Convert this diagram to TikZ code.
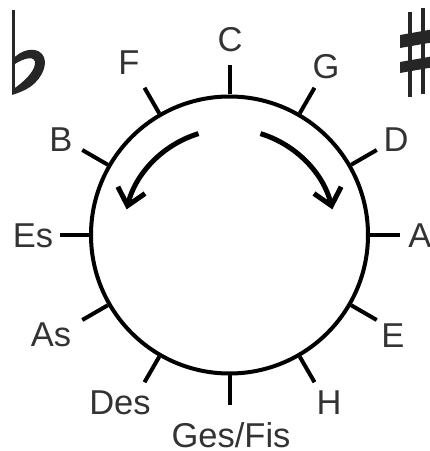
\documentclass[tikz,border=0pt]{standalone}
\usepackage{fontspec}
\setmainfont{Liberation Sans}
\usetikzlibrary{arrows.meta,calc}
\begin{document}
\begin{tikzpicture}[x=1pt,y=1pt,
  lab/.style={anchor=base, inner sep=0pt, text=black!80, font=\fontsize{34.5}{40}\selectfont},
  tickline/.style={line width=4pt},
  turn/.style={line width=5pt, -{Straight Barb[length=16pt,width=28pt]}},
  glyph/.style={fill=black!85, draw=none}]
\useasboundingbox (0,0) rectangle (430,451);
% ring
\node[draw, circle, line width=4pt, minimum size=277pt, inner sep=0pt] (ring) at (229.5,216) {};
% ticks
\foreach \a in {0,30,...,330}{
  \coordinate (t\a) at ($(ring.center)+(\a:170)$);
  \draw[tickline] (ring.\a) -- (t\a);
}
% labels
\node[lab] (nC)  at (230,399) {C};
\node[lab] (nG)  at (326,372) {G};
\node[lab] (nD)  at (396,299) {D};
\node[lab] (nA)  at (420,204) {A};
\node[lab] (nE)  at (393,103) {E};
\node[lab] (nH)  at (329,36) {H};
\node[lab] (nGF) at (231,4) {Ges/Fis};
\node[lab] (nDes) at (120,36) {Des};
\node[lab] (nAs) at (51,104) {As};
\node[lab] (nEs) at (33,204) {Es};
\node[lab] (nB)  at (61,299) {B};
\node[lab] (nF)  at (129,376) {F};
% direction arrows
\coordinate (la) at ($(ring.center)+(107:106)$);
\coordinate (ra) at ($(ring.center)+(73:106)$);
\draw[turn] (la) arc[start angle=107, end angle=166, radius=106];
\draw[turn] (ra) arc[start angle=73, end angle=14, radius=106];
% flat and sharp signs
\begin{scope}[shift={(0,451)}, yscale=-1]
  \draw[line width=3pt, black!85] (13,10) -- (13,94);
  \path[glyph] (12,60) .. controls (20,50) and (35,46) .. (42,54)
     .. controls (49,62) and (43,78) .. (30,87)
     .. controls (24,91) and (18,93) .. (12,95)
     -- (12,90) .. controls (24,82) and (34,72) .. (35,64)
     .. controls (36,56) and (26,56) .. (12,66) -- cycle;
  \draw[line width=4pt, black!85] (410,12) -- (410,97);
  \draw[line width=4pt, black!85] (423,8) -- (423,94);
  \path[glyph] (400,35) -- (440,28) -- (440,41) -- (400,48) -- cycle;
  \path[glyph] (400,62) -- (440,55) -- (440,66) -- (400,73) -- cycle;
\end{scope}
\end{tikzpicture}
\end{document}
